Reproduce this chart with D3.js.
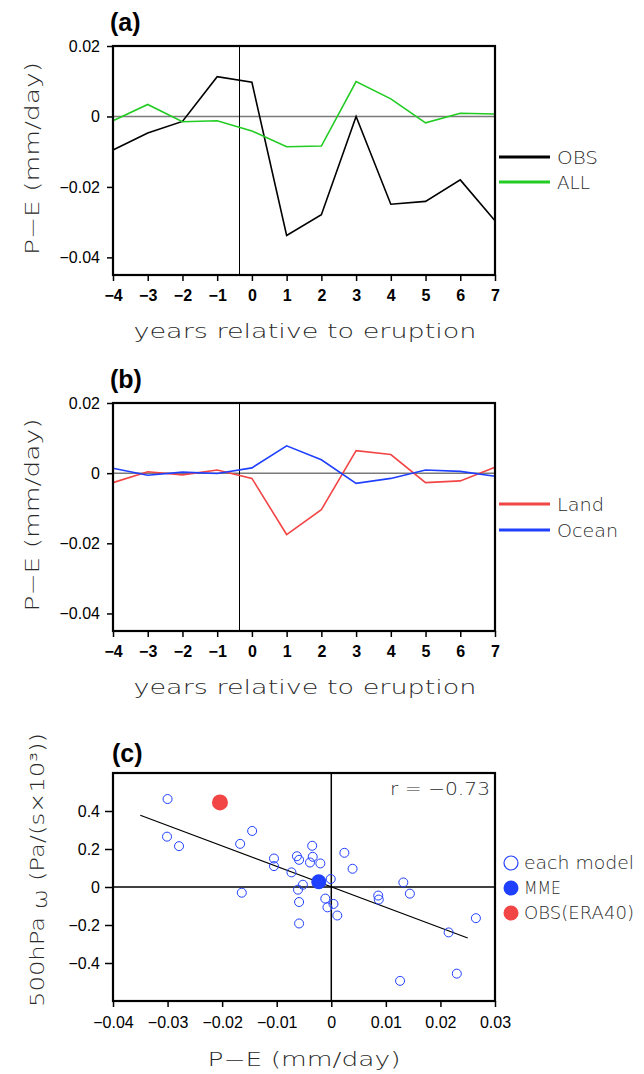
<!DOCTYPE html>
<html>
<head>
<meta charset="utf-8">
<script src="https://cdn.jsdelivr.net/npm/d3@7"></script>
<style>
  html, body { margin: 0; padding: 0; background: #fff; }
  svg { display: block; }
</style>
</head>
<body>
<svg id="fig" width="644" height="1074"></svg>
<script>
// ---- data ----
const years = [-4, -3, -2, -1, 0, 1, 2, 3, 4, 5, 6, 7];
const obsPE = [-0.0095, -0.0047, -0.0014, 0.0113, 0.0097, -0.0338, -0.0279, 0.0000, -0.0249, -0.0241, -0.0180, -0.0296];
const allPE = [-0.0012, 0.0034, -0.0015, -0.0012, -0.0041, -0.0086, -0.0084, 0.0099, 0.0050, -0.0018, 0.0009, 0.0007];
const landPE = [-0.0027, 0.0004, -0.0005, 0.0009, -0.0015, -0.0175, -0.0104, 0.0064, 0.0053, -0.0027, -0.0022, 0.0017];
const oceanPE = [0.0014, -0.0006, 0.0003, -0.0001, 0.0015, 0.0078, 0.0038, -0.0029, -0.0015, 0.0009, 0.0005, -0.0009];
const eruptionYear = -0.37;

const peTicks = [0.02, 0, -0.02, -0.04];

// individual models: P-E (mm/day) vs 500hPa omega
const modelPE = [-0.0300, -0.0301, -0.0279, -0.0145, -0.0167, -0.0164, -0.0105, -0.0105, -0.0073, -0.0063,
                 -0.0059, -0.0035, -0.0034, -0.0039, -0.0020, -0.0052, -0.0061, -0.0059, -0.0059, -0.0001,
                 -0.0011, 0.0004, -0.0007, 0.0011, 0.0024, 0.0039, 0.0086, 0.0087, 0.0132, 0.0144,
                 0.0126, 0.0230, 0.0215, 0.0265];
const modelOmega = [0.463, 0.265, 0.215, 0.295, 0.227, -0.030, 0.150, 0.110, 0.077, 0.162,
                    0.143, 0.217, 0.159, 0.129, 0.124, 0.012, -0.014, -0.079, -0.192, 0.042,
                    -0.061, -0.089, -0.107, -0.150, 0.180, 0.096, -0.045, -0.066, 0.024, -0.035,
                    -0.494, -0.456, -0.239, -0.164];
const mmePoint = [-0.0023, 0.028];
const obsEra40 = [-0.0204, 0.445];
const fitRange = [-0.035, 0.025];
const rText = "r = \u22120.73";
const scatterXTicks = [-0.04, -0.03, -0.02, -0.01, 0, 0.01, 0.02, 0.03];
const scatterYTicks = [0.4, 0.2, 0, -0.2, -0.4];

// ---- styles ----
const thinFont = "'DejaVu Sans', sans-serif";
const tickFont = "'Liberation Sans', Arial, sans-serif";
const colObs = "#000000", colAll = "#22cc22", colLand = "#f24545", colOcean = "#2040ff";

const svg = d3.select("#fig");

function fmtPE(d) { return d === 0 ? "0" : d3.format(".2f")(d); }
function fmt1(d) { return d === 0 ? "0" : d3.format(".1f")(d); }

function thinText(g, str, x, y, size, opts = {}) {
  const t = g.append("text")
    .attr("x", x).attr("y", y)
    .attr("font-family", thinFont)
    .attr("font-weight", 200)
    .attr("font-size", size)
    .attr("fill", "#2a2a2a")
    .attr("text-anchor", opts.anchor || "start")
    .text(str);
  if (opts.length) t.attr("textLength", opts.length).attr("lengthAdjust", "spacingAndGlyphs");
  if (opts.rotate) t.attr("transform", `rotate(-90,${x},${y})`);
  return t;
}

function panelLabel(str, x, y) {
  svg.append("text").attr("x", x).attr("y", y)
    .attr("font-family", tickFont).attr("font-weight", 700)
    .attr("font-size", 25).attr("fill", "#000").text(str);
}

function styleAxis(g, bold) {
  g.select(".domain").remove();
  g.selectAll(".tick line").attr("stroke", "#000").attr("stroke-width", 1.5);
  g.selectAll(".tick text")
    .attr("font-family", tickFont)
    .attr("font-weight", bold ? 700 : 400)
    .attr("font-size", 16)
    .attr("fill", "#000");
}

// ---- time-series panel ----
function seriesPanel(opts) {
  const x = d3.scaleLinear([-4, 7], [113, 495]);
  const y = d3.scaleLinear([-0.045, 0.02], opts.yRange);
  const g = svg.append("g");

  // zero line
  g.append("line")
    .attr("x1", x(-4)).attr("x2", x(7))
    .attr("y1", y(0)).attr("y2", y(0))
    .attr("stroke", "#7a7a7a").attr("stroke-width", 1.5);
  // eruption marker
  g.append("line")
    .attr("x1", x(eruptionYear)).attr("x2", x(eruptionYear))
    .attr("y1", y.range()[0]).attr("y2", y.range()[1])
    .attr("stroke", "#000").attr("stroke-width", 1)
    .attr("shape-rendering", "crispEdges");

  const line = d3.line().x((d, i) => x(years[i])).y(d => y(d));
  opts.series.forEach(s => {
    g.append("path").datum(s.values)
      .attr("d", line)
      .attr("fill", "none")
      .attr("stroke", s.color)
      .attr("stroke-width", 1.6)
      .attr("stroke-linejoin", "miter");
  });

  // frame
  g.append("rect")
    .attr("x", x(-4)).attr("y", y(0.02))
    .attr("width", x(7) - x(-4)).attr("height", y(-0.045) - y(0.02))
    .attr("fill", "none").attr("stroke", "#000").attr("stroke-width", 2.2);

  const ax = g.append("g").attr("transform", `translate(0,${y.range()[0]})`)
    .call(d3.axisBottom(x).tickValues(years).tickSize(6).tickSizeOuter(0).tickFormat(d3.format("d")));
  styleAxis(ax, true);
  ax.selectAll(".tick text").attr("dy", "0.71em").attr("y", 15);

  const ay = g.append("g").attr("transform", `translate(${x(-4)},0)`)
    .call(d3.axisLeft(y).tickValues(peTicks).tickSize(6).tickSizeOuter(0).tickPadding(7).tickFormat(fmtPE));
  styleAxis(ay, false);

  // axis titles
  thinText(g, "years relative to eruption", 305, opts.xTitleY, 19, { anchor: "middle", length: 343 });
  const yc = (y.range()[0] + y.range()[1]) / 2 - 2;
  thinText(g, "P\u2212E (mm/day)", 39, yc, 19, { anchor: "middle", length: 193, rotate: true });

  // legend
  opts.series.forEach((s, i) => {
    const ly = opts.legendY[i];
    g.append("line").attr("x1", 499).attr("x2", 550).attr("y1", ly).attr("y2", ly)
      .attr("stroke", s.color).attr("stroke-width", 3);
    thinText(g, s.name, 557, ly + 6.5, 18, { length: s.legendLen });
  });
}

panelLabel("(a)", 110, 31);
seriesPanel({
  yRange: [275, 46],
  xTitleY: 338,
  legendY: [157, 182],
  series: [
    { name: "OBS", values: obsPE, color: colObs, legendLen: 41 },
    { name: "ALL", values: allPE, color: colAll, legendLen: 33 }
  ]
});

panelLabel("(b)", 110, 388);
seriesPanel({
  yRange: [631, 403],
  xTitleY: 694,
  legendY: [504, 530],
  series: [
    { name: "Land", values: landPE, color: colLand, legendLen: 47 },
    { name: "Ocean", values: oceanPE, color: colOcean, legendLen: 61 }
  ]
});

// ---- scatter panel ----
panelLabel("(c)", 112, 762);
(function scatterPanel() {
  const x = d3.scaleLinear([-0.04, 0.03], [113, 495]);
  const y = d3.scaleLinear([-0.6, 0.6], [1001, 773]);
  const g = svg.append("g");

  // reference axes through the origin
  g.append("line").attr("x1", x(-0.04)).attr("x2", x(0.03)).attr("y1", y(0)).attr("y2", y(0))
    .attr("stroke", "#000").attr("stroke-width", 1.5);
  g.append("line").attr("x1", x(0)).attr("x2", x(0)).attr("y1", y(-0.6)).attr("y2", y(0.6))
    .attr("stroke", "#000").attr("stroke-width", 1.5);

  // least-squares fit across the models
  const mx = d3.mean(modelPE), my = d3.mean(modelOmega);
  let sxy = 0, sxx = 0;
  modelPE.forEach((v, i) => { sxy += (v - mx) * (modelOmega[i] - my); sxx += (v - mx) * (v - mx); });
  const slope = sxy / sxx, icpt = my - slope * mx;
  g.append("line")
    .attr("x1", x(fitRange[0])).attr("y1", y(icpt + slope * fitRange[0]))
    .attr("x2", x(fitRange[1])).attr("y2", y(icpt + slope * fitRange[1]))
    .attr("stroke", "#000").attr("stroke-width", 1.2);

  // models
  g.selectAll("circle.model").data(modelPE).join("circle")
    .attr("class", "model")
    .attr("cx", d => x(d)).attr("cy", (d, i) => y(modelOmega[i]))
    .attr("r", 4.5).attr("fill", "none").attr("stroke", colOcean).attr("stroke-width", 1);
  g.append("circle").attr("cx", x(mmePoint[0])).attr("cy", y(mmePoint[1]))
    .attr("r", 7.5).attr("fill", colOcean);
  g.append("circle").attr("cx", x(obsEra40[0])).attr("cy", y(obsEra40[1]))
    .attr("r", 8).attr("fill", colLand);

  // frame
  g.append("rect").attr("x", x(-0.04)).attr("y", y(0.6))
    .attr("width", x(0.03) - x(-0.04)).attr("height", y(-0.6) - y(0.6))
    .attr("fill", "none").attr("stroke", "#000").attr("stroke-width", 2.2);

  const ax = g.append("g").attr("transform", `translate(0,${y(-0.6)})`)
    .call(d3.axisBottom(x).tickValues(scatterXTicks).tickSize(6).tickSizeOuter(0).tickFormat(fmtPE));
  styleAxis(ax, false);
  ax.selectAll(".tick text").attr("y", 16);

  const ay = g.append("g").attr("transform", `translate(${x(-0.04)},0)`)
    .call(d3.axisLeft(y).tickValues(scatterYTicks).tickSize(8).tickSizeOuter(0).tickPadding(5).tickFormat(fmt1));
  styleAxis(ay, false);

  thinText(g, rText, 490, 795, 17, { anchor: "end", length: 100 });
  thinText(g, "P\u2212E (mm/day)", 304, 1066, 19, { anchor: "middle", length: 193 });

  const yt = g.append("text")
    .attr("font-family", thinFont).attr("font-weight", 200).attr("font-size", 19)
    .attr("fill", "#2a2a2a").attr("text-anchor", "middle")
    .attr("x", 44).attr("y", 870)
    .attr("transform", "rotate(-90,44,870)")
    .attr("textLength", 274).attr("lengthAdjust", "spacingAndGlyphs");
  yt.append("tspan").text("500hPa ");
  yt.append("tspan").attr("dy", 3).text("\u03c9");
  yt.append("tspan").attr("dy", -3).text(" (Pa/(s\u00d710\u00b3))");

  // legend
  const lx = 511;
  g.append("circle").attr("cx", lx).attr("cy", 863).attr("r", 7).attr("fill", "none")
    .attr("stroke", colOcean).attr("stroke-width", 1.2);
  g.append("circle").attr("cx", lx).attr("cy", 888).attr("r", 7.5).attr("fill", colOcean);
  g.append("circle").attr("cx", lx).attr("cy", 913).attr("r", 7.5).attr("fill", colLand);
  thinText(g, "each model", 524, 869, 17, { length: 110 });
  thinText(g, "MME", 524, 894, 17, { length: 37 });
  thinText(g, "OBS(ERA40)", 524, 919, 17, { length: 110 });
})();
</script>
</body>
</html>
